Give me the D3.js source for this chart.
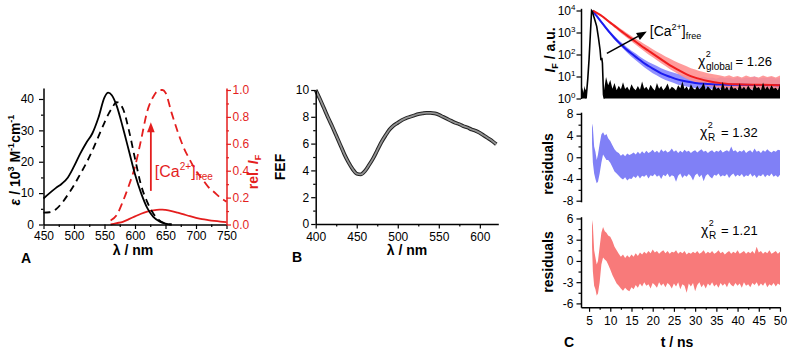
<!DOCTYPE html>
<html>
<head>
<meta charset="utf-8">
<script src="https://cdn.jsdelivr.net/npm/d3@7"></script>
<style>
body { margin: 0; background: #fff; }
text { font-family: Arial, "Liberation Sans", sans-serif; }
</style>
</head>
<body>
<script>
// ---- panel A : absorption (black, left axis) and emission (red, right axis)
const absWl     = [450,460,470,480,490,500,510,520,530,540,550,556,562,570,580,590,600,610,620,630,640,650,660];
const absLowCa  = [8.3,10.0,11.6,13.0,15.0,18.5,22.5,26.0,29.0,34.0,40.5,42.0,41.2,37.8,31.0,23.5,16.0,10.0,5.3,2.4,1.0,0.3,0.0];
const absHighCa = [3.8,3.9,4.8,6.8,9.5,12.5,16.0,19.5,23.5,28.0,32.5,35.0,37.0,39.0,37.0,30.0,21.0,12.5,7.2,3.5,1.3,0.3,0.0];
const emWl      = [560,570,580,590,600,610,620,630,640,645,650,660,670,680,690,700,710,720,730,740,750];
const emLowCa   = [0.0,0.01,0.02,0.04,0.06,0.08,0.095,0.105,0.11,0.11,0.108,0.10,0.088,0.075,0.062,0.05,0.04,0.033,0.027,0.022,0.018];
const emHighCa  = [0.03,0.07,0.17,0.29,0.43,0.63,0.84,0.95,1.0,1.0,0.98,0.83,0.69,0.57,0.48,0.40,0.34,0.28,0.24,0.20,0.17];
const aTicksX = [450,500,550,600,650,700,750];
const aTicksY = [0,10,20,30,40];
const aTicksY2 = [0,0.2,0.4,0.6,0.8,1.0];

// ---- panel B : fluorescence enhancement factor
const fefWl = [400,405,410,415,420,425,430,435,440,445,450,455,460,465,470,475,480,485,490,495,
               500,505,510,515,520,525,530,535,540,545,550,555,560,565,570,575,580,585,590,595,
               600,605,610,615,620];
const fef   = [10.0,9.35,8.65,7.95,7.3,6.6,5.9,5.2,4.6,4.1, 3.75,3.7,3.95,4.4,4.9,5.5,6.1,6.6,7.05,7.35,
               7.55,7.75,7.9,8.0,8.1,8.2,8.25,8.3,8.3,8.25, 8.15,8.0,7.85,7.7,7.55,7.45,7.3,7.2,7.05,6.95,
               6.8,6.6,6.4,6.2,5.95];
const bTicksX = [400,450,500,550,600];
const bTicksY = [0,2,4,6,8,10];

// ---- panel C : decays (counts), fits, IRF and residuals
const fitT    = [5.9,6.5,7,8,9,10,11,12,13,14,15,16,17,18,19,20,22,24,26,28,30,33,36,40,45,50];
const fitBlue = [10000,6600,5000,2800,1600,930,560,355,235,158,110,78,56,40,30,23,14,9.8,7.2,5.9,5.1,4.6,4.3,4.2,4.1,4.0];
const fitRed  = [10000,8500,7400,5600,4000,2800,2000,1400,1000,720,525,380,275,200,148,110,60,33,20,12.6,8.9,6.3,5.0,4.4,4.2,4.0];

// measured decays, upper / lower edge of the noisy trace, one value per ns from 6 to 50 ns
const dataBlueHi = [10000,5600,3200,1900,1100,700,450,310,210,150, 112,80,60,46,37,30,24,20,17,15,
                    13,12,11,10,9.5,9,10,8.5,9,8, 9.5,8.5,9,8,9.5,8,9,8.5,10,8, 9,8.5,9.5,8,9];
const dataBlueLo = [8000,4500,2500,1400,800,470,290,185,120,80, 55,38,26,19,14,11,8.5,7,6,5,
                    4.2,3.8,3.5,3.2,3.0,2.8,2.9,2.7,2.8,2.6, 2.7,2.6,2.8,2.5,2.7,2.6,2.8,2.5,2.7,2.6, 2.8,2.5,2.7,2.6,2.7];
const dataRedHi  = [10000,8000,6200,4500,3200,2350,1700,1250,920,700, 520,400,300,230,175,135,105,82,65,52,
                    42,35,29,24,21,18,16,14,13,12, 11,10,11.5,9.5,10.5,9,11,9.5,10,9, 11,9.5,10.5,9,11];
const dataRedLo  = [9000,6800,5000,3500,2450,1700,1150,800,560,390, 280,200,140,100,75,55,40,30,22,17,
                    13,10,8,6.5,5.5,5,4.2,3.8,3.5,3.2, 3.0,2.8,2.9,2.6,2.8,2.5,2.8,2.6,2.7,2.5, 2.8,2.6,2.7,2.5,2.8];

// instrument response
const irfT = [4.3,4.7,5.0,5.3,5.6,5.8,6.1,6.4,6.8,7.2,7.6,7.8,8.0,8.15,8.4,8.6];
const irf  = [1,8,60,800,10000,9000,5500,3500,1900,600,160,55,70,40,1.5,1];
const irfPreT = [3.1,3.3,3.5,3.7,3.9,4.1,4.3];
const irfPre  = [3.6,2.0,3.2,1.8,3.8,2.4,2.9];
// background counts after the pulse, every 0.5 ns from 8.5 ns
const irfPost = [2.2,9.5,4,7,2.8,5,2.4,3.8,2.6,5.5, 2.7,3.4,2.3,4.5,2.9,2.4,3.7,2.5,6,2.8,
                 3.4,2.4,4.2,2.9,2.3,5,2.8,3.7,2.4,3.1, 4.8,2.5,3.4,2.9,2.3,4,2.9,6,2.7,3.5,
                 2.4,4.5,2.9,2.5,3.8,2.6,3.3,5.2,2.5,3.6, 2.8,2.3,4.4,2.7,3.2,2.4,5.8,2.6,3.5,2.3,
                 4.1,2.8,3.0,2.4,4.9,2.6,3.4,2.5,3.9,2.7, 2.3,4.6,2.9,3.3,2.4,5.4,2.6,3.6,2.5,4.0,
                 2.8,3.1,2.4,4.3];

// residuals: first 12 points irregular, then every 0.5 ns from 10 to 50 ns
const resTStart = [5.7,5.9,6.2,6.5,6.8,7.1,7.5,7.9,8.3,8.7,9.1,9.5];
const resBlueLo = [2.5,-1.0,-3.0,-4.0,-4.8,-4.5,-3.0,-1.0,0.5,0.0,-0.5,-0.5,
  -1.0,-1.8,-2.6,-3.0,-3.4,-3.8,-4.1,-3.7,-4.3,-3.9, -4.0,-3.5,-3.8,-3.3,-3.9,-3.4,-3.6,-3.2,-3.9,-3.3,
  -3.5,-3.1,-3.6,-3.3,-4.0,-3.2,-3.5,-3.0,-3.7,-3.3, -3.5,-4.5,-3.4,-3.0,-3.8,-3.3,-3.6,-3.1,-3.5,-4.3,
  -3.3,-3.0,-3.7,-3.2,-4.4,-3.4,-3.1,-3.6,-3.9,-3.2, -3.4,-3.0,-3.6,-3.3,-3.5,-3.1,-3.8,-3.3,-3.0,-3.6,
  -3.2,-3.5,-3.1,-3.7,-3.3,-3.5,-3.0,-3.6,-3.2,-3.8, -3.3,-3.5,-3.1,-3.7,-3.2,-3.5,-3.0,-3.6,-3.3,-3.7, -3.2];
const resBlueHi = [6.2,5.5,2.0,1.0,-0.5,0.5,2.5,4.2,4.6,4.0,4.3,3.5,
  3.0,2.2,1.5,1.0,0.8,0.3,0.6,0.2,0.7,0.4, 0.6,0.9,0.5,1.0,0.6,1.1,0.7,1.2,0.8,1.0,
  1.4,0.9,1.2,0.8,1.5,1.0,1.3,0.9,1.1,1.6, 1.0,1.3,0.8,1.2,0.9,1.4,1.0,1.2,0.8,1.1,
  1.3,0.9,1.2,1.5,1.0,1.2,0.8,1.1,1.3,0.9, 1.2,1.0,1.4,0.9,1.1,1.3,1.0,2.0,1.1,1.3,
  0.9,1.2,1.0,1.4,0.8,1.1,1.3,0.9,1.6,1.0, 1.2,0.8,1.3,1.0,1.5,1.1,0.9,1.2,1.0,1.4, 1.3];
const resRedLo = [2.0,-1.5,-3.5,-4.0,-4.9,-4.6,-3.0,-0.5,0.5,0.2,0.0,-0.5,
  -1.2,-2.0,-2.6,-3.2,-3.5,-3.9,-4.2,-3.8,-4.1,-4.3, -3.7,-4.0,-3.4,-3.8,-3.2,-3.6,-3.0,-3.5,-3.3,-3.9,
  -3.1,-3.4,-3.8,-3.0,-3.5,-3.2,-3.7,-3.1,-3.4,-3.9, -3.2,-3.6,-3.0,-4.0,-3.3,-3.5,-4.5,-3.2,-3.6,-3.1,
  -4.3,-3.4,-3.0,-3.7,-3.3,-3.9,-3.2,-3.5,-3.0,-3.6, -3.3,-3.8,-3.1,-3.5,-3.2,-3.7,-3.0,-3.4,-3.6,-3.1,
  -3.5,-3.2,-3.8,-3.0,-3.5,-3.3,-3.7,-3.1,-3.4,-3.0, -3.6,-3.2,-3.5,-3.0,-3.7,-3.3,-3.5,-3.1,-3.6,-3.2, -3.4];
const resRedHi = [5.8,5.0,1.5,0.5,-0.5,0.0,2.0,4.0,4.8,4.2,4.0,3.6,
  3.4,2.8,2.0,1.5,1.0,0.6,0.9,0.4,0.8,0.5, 0.9,0.6,1.1,0.7,1.2,0.9,1.3,1.0,1.4,1.1,
  1.6,1.2,1.4,1.0,1.3,1.5,1.1,1.4,1.0,1.3, 1.2,1.5,1.0,1.3,1.1,1.4,0.9,1.2,1.0,1.3,
  1.1,1.4,1.0,1.2,1.5,1.0,1.3,1.1,1.4,1.0, 1.2,1.5,1.1,1.3,0.9,1.2,1.4,1.0,1.3,1.1,
  1.5,1.0,1.2,1.4,1.0,1.3,1.1,1.4,1.0,2.0, 1.2,1.4,1.0,1.3,1.1,1.5,1.0,1.2,1.4,1.0, 1.3];
const cTicksX = [5,10,15,20,25,30,35,40,45,50];
const cTicksLog = [1,10,100,1000,10000];
const cTicksR1 = [-8,-4,0,4,8];
const cTicksR2 = [-6,-3,0,3,6];

// sampling grids
const dataT = d3.range(6, 51, 1);
const irfPostT = irfPost.map((d, i) => 8.5 + i * 0.5);
const resT = resTStart.concat(d3.range(10, 50.25, 0.5));

const RED = "#e41e1e";
const FONT = "Arial, 'Liberation Sans', sans-serif";

const svg = d3.select("body").append("svg")
    .attr("width", 791)
    .attr("height", 350)

// scales
const xA = d3.scaleLinear().domain([450, 750]).range([43.5, 226.5]);
const yA = d3.scaleLinear().domain([0, 43.5]).range([224.5, 88]);
const yA2 = d3.scaleLinear().domain([0, 1.015]).range([224.5, 88]);
const xB = d3.scaleLinear().domain([400, 622.5]).range([315.7, 498.3]);
const yB = d3.scaleLinear().domain([0, 10]).range([224, 90]);
const xC = d3.scaleLinear().domain([3.1, 50]).range([581, 780]);
const yC1 = d3.scaleLog().domain([1, 12589]).range([98.5, 8.3]);
const yC2 = d3.scaleLinear().domain([-8.2, 8.3]).range([201.8, 112.2]);
const yC3 = d3.scaleLinear().domain([-6.55, 6.25]).range([307.3, 216.7]);

const mid = (a) => d3.range(a.length - 1).map(i => (a[i] + a[i + 1]) / 2);

function drawAxis(gen, scale, major, minor, tr, opt = {}) {
    const col = opt.color || "#000";
    if (minor) {
        svg.append("g").attr("transform", tr)
            .call(gen(scale).tickValues(minor).tickSize(2.5).tickFormat(""))
            .call(g => g.select(".domain").remove())
            .selectAll("line").attr("stroke", col).attr("stroke-width", 1.2);
    }
    const g = svg.append("g").attr("transform", tr)
        .call(gen(scale).tickValues(major).tickSizeInner(4.5).tickSizeOuter(0)
            .tickPadding(opt.pad ?? 2).tickFormat(opt.fmt || (d => String(d))));
    g.select(".domain").attr("stroke", col).attr("stroke-width", 1.5);
    g.selectAll(".tick line").attr("stroke", col).attr("stroke-width", 1.2);
    g.selectAll(".tick text").attr("fill", col).attr("font-size", 12).attr("font-family", FONT);
    return g;
}

function vTitle(x, y, parts, col) {
    const t = svg.append("text")
        .attr("transform", `translate(${x},${y}) rotate(-90)`)
        .attr("text-anchor", "middle")
        .attr("font-size", 14).attr("font-weight", "bold")
        .attr("fill", col || "#000");
    parts.forEach(p => {
        const s = t.append("tspan").text(p.t);
        if (p.dy) s.attr("dy", p.dy);
        if (p.fs) s.attr("font-size", p.fs);
        if (p.it) s.attr("font-style", "italic");
    });
    return t;
}

function label(x, y, txt, size, bold) {
    return svg.append("text").attr("x", x).attr("y", y).attr("text-anchor", "middle")
        .attr("font-size", size).attr("font-weight", bold ? "bold" : "normal").text(txt);
}

// ================= panel A =================
const pairs = (xs, ys) => xs.map((x, i) => [x, ys[i]]);
const lineA = d3.line().x(d => xA(d[0])).y(d => yA(d[1])).curve(d3.curveMonotoneX);
const lineA2 = d3.line().x(d => xA(d[0])).y(d => yA2(d[1])).curve(d3.curveMonotoneX);

svg.append("path").datum(pairs(emWl, emHighCa)).attr("d", lineA2)
    .attr("fill", "none").attr("stroke", RED).attr("stroke-width", 1.8).attr("stroke-dasharray", "8,5");
svg.append("path").datum(pairs(emWl, emLowCa)).attr("d", lineA2)
    .attr("fill", "none").attr("stroke", RED).attr("stroke-width", 1.8);
svg.append("path").datum(pairs(absWl, absHighCa)).attr("d", lineA)
    .attr("fill", "none").attr("stroke", "#000").attr("stroke-width", 1.8).attr("stroke-dasharray", "7,5");
svg.append("path").datum(pairs(absWl, absLowCa)).attr("d", lineA)
    .attr("fill", "none").attr("stroke", "#000").attr("stroke-width", 1.8);

drawAxis(d3.axisBottom, xA, aTicksX, mid(aTicksX), `translate(0,${yA(0)})`, {pad: 2.5});
drawAxis(d3.axisLeft, yA, aTicksY, [5,15,25,35], `translate(${xA(450)},0)`, {pad: 5});
drawAxis(d3.axisRight, yA2, aTicksY2, mid(aTicksY2), `translate(${xA(750)},0)`,
    {color: RED, pad: 1.5, fmt: d3.format(".1f")});

// arrow [Ca2+]free
{
    const ax = xA(626), y0 = yA2(0.25), y1 = yA2(0.76);
    svg.append("line").attr("x1", ax).attr("x2", ax).attr("y1", y0).attr("y2", y1 + 8)
        .attr("stroke", RED).attr("stroke-width", 1.8);
    svg.append("path").attr("d", `M${ax},${y1}L${ax - 3.8},${y1 + 10}L${ax + 3.8},${y1 + 10}Z`).attr("fill", RED);
    const t = svg.append("text").attr("x", ax + 4).attr("y", 177).attr("fill", RED).attr("font-size", 16);
    t.append("tspan").text("[Ca");
    t.append("tspan").attr("font-size", 10).attr("dy", -7).text("2+");
    t.append("tspan").attr("dy", 7).text("]");
    t.append("tspan").attr("font-size", 10).attr("dy", 3).text("free");
}

vTitle(20, 160, [{t: "ε", it: 1}, {t: " / 10"}, {t: "3", fs: 9, dy: -6}, {t: " M", dy: 6},
    {t: "-1", fs: 9, dy: -6}, {t: "cm", dy: 6}, {t: "-1", fs: 9, dy: -6}]);
vTitle(258, 172, [{t: "rel. "}, {t: "I", it: 1}, {t: "F", fs: 9, dy: 3}], RED);
label(133, 255, "λ / nm", 14, true);
label(26, 263, "A", 14, true);

// ================= panel B =================
const lineB = d3.line().x(d => xB(d[0])).y(d => yB(d[1])).curve(d3.curveMonotoneX);
svg.append("path").datum(pairs(fefWl, fef)).attr("d", lineB)
    .attr("fill", "none").attr("stroke", "#222").attr("stroke-width", 3.8);
svg.append("path").datum(pairs(fefWl, fef)).attr("d", lineB)
    .attr("fill", "none").attr("stroke", "#939393").attr("stroke-width", 1.8);

drawAxis(d3.axisBottom, xB, bTicksX, [425,475,525,575], `translate(0,${yB(0)})`, {pad: 3.5});
drawAxis(d3.axisLeft, yB, bTicksY, [1,3,5,7,9], `translate(${xB(400)},0)`, {pad: 2});
vTitle(285, 167, [{t: "FEF"}]);
label(407, 255, "λ / nm", 14, true);
label(297, 262, "B", 14, true);

// ================= panel C =================
// decays
const bandC = d3.area().x(d => xC(d[0])).y0(d => yC1(d[1])).y1(d => yC1(d[2]));
const tri = (t, a, b) => t.map((x, i) => [x, a[i], b[i]]);
svg.append("path").datum(tri(dataT, dataBlueLo, dataBlueHi)).attr("d", bandC).attr("fill", "#9090ff");
svg.append("path").datum(tri(dataT, dataRedLo, dataRedHi)).attr("d", bandC).attr("fill", "#ff9090").attr("fill-opacity", 0.9);
const lineC = d3.line().x(d => xC(d[0])).y(d => yC1(d[1])).curve(d3.curveMonotoneX);
svg.append("path").datum(pairs(fitT, fitBlue)).attr("d", lineC)
    .attr("fill", "none").attr("stroke", "#1c1cf0").attr("stroke-width", 2);
svg.append("path").datum(pairs(fitT, fitRed)).attr("d", lineC)
    .attr("fill", "none").attr("stroke", "#f01c1c").attr("stroke-width", 2);

// IRF
const noiseC = d3.area().x(d => xC(d[0])).y0(yC1(1)).y1(d => yC1(d[1]));
svg.append("path").datum(pairs(irfPreT, irfPre)).attr("d", noiseC).attr("fill", "#000");
svg.append("path").datum(pairs(irfPostT, irfPost)).attr("d", noiseC).attr("fill", "#000");
svg.append("path").datum(pairs(irfT, irf)).attr("d", d3.line().x(d => xC(d[0])).y(d => yC1(d[1])))
    .attr("fill", "none").attr("stroke", "#000").attr("stroke-width", 1.6);

// arrow
{
    const x0 = xC(9.2), y0 = yC1(112), x1 = xC(18.6), y1 = yC1(1100);
    const ang = Math.atan2(y1 - y0, x1 - x0), L = 10, w = 4;
    const bx = x1 - L * Math.cos(ang), by = y1 - L * Math.sin(ang);
    svg.append("line").attr("x1", x0).attr("y1", y0).attr("x2", bx).attr("y2", by)
        .attr("stroke", "#000").attr("stroke-width", 1.6);
    svg.append("path").attr("d", `M${x1},${y1}L${bx - w * Math.sin(ang)},${by + w * Math.cos(ang)}L${bx + w * Math.sin(ang)},${by - w * Math.cos(ang)}Z`);
    const t = svg.append("text").attr("x", x1 + 3).attr("y", 36).attr("font-size", 14);
    t.append("tspan").text("[Ca");
    t.append("tspan").attr("font-size", 9).attr("dy", -6).text("2+");
    t.append("tspan").attr("dy", 6).text("]");
    t.append("tspan").attr("font-size", 9).attr("dy", 3).text("free");
}

const logAx = drawAxis(d3.axisLeft, yC1, cTicksLog, null, `translate(${xC.range()[0]},0)`, {pad: 1, fmt: () => ""});
logAx.selectAll(".tick text").each(function (d) {
    const t = d3.select(this);
    t.append("tspan").text("10");
    t.append("tspan").attr("font-size", 8).attr("dy", -5).text(Math.round(Math.log10(d)));
});

// residuals
const resArea = (y) => d3.area().x(d => xC(d[0])).y0(d => y(d[1])).y1(d => y(d[2]));
svg.append("path").datum(tri(resT, resBlueLo, resBlueHi)).attr("d", resArea(yC2)).attr("fill", "#8080f6");
svg.append("path").datum(tri(resT, resRedLo, resRedHi)).attr("d", resArea(yC3)).attr("fill", "#f87a7a");

drawAxis(d3.axisLeft, yC2, cTicksR1, [-6,-2,2,6], `translate(${xC.range()[0]},0)`, {pad: 3});
drawAxis(d3.axisLeft, yC3, cTicksR2, [-4.5,-1.5,1.5,4.5], `translate(${xC.range()[0]},0)`, {pad: 3});
drawAxis(d3.axisBottom, xC, cTicksX, mid(cTicksX), `translate(0,${yC3.range()[0]})`, {pad: 4.5});

// chi-square annotations (one text element each, sup/sub stacked)
function chi(x, y, sub, val, gap) {
    const t = svg.append("text").attr("x", x).attr("y", y).attr("font-size", 14);
    t.append("tspan").text("χ");
    t.append("tspan").attr("font-size", 9).attr("dx", 0.5).attr("dy", -9).text("2");
    t.append("tspan").attr("font-size", 10).attr("dx", -5).attr("dy", 13).text(sub);
    t.append("tspan").attr("font-size", 13).attr("dx", gap).attr("dy", -4).text("= " + val);
}
chi(698, 66, "global", "1.26", 3);
chi(700, 136.5, "R", "1.32", 6);
chi(701, 234.5, "R", "1.21", 5);

vTitle(555, 50, [{t: "I", it: 1}, {t: "F", fs: 9, dy: 3}, {t: " / a.u.", dy: -3}]);
vTitle(553, 164, [{t: "residuals"}]);
vTitle(553, 262, [{t: "residuals"}]);
label(677, 347, "t / ns", 14, true);
label(569, 347, "C", 14, true);
</script>
</body>
</html>
